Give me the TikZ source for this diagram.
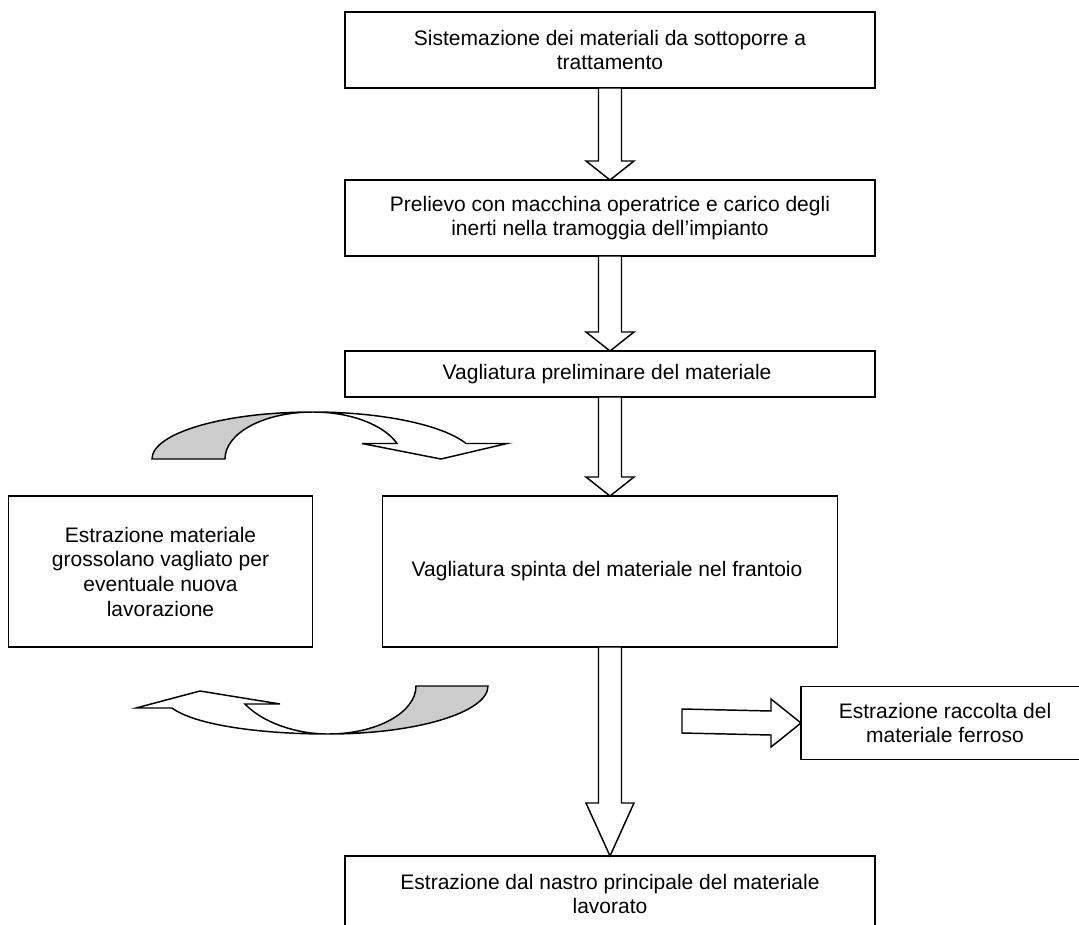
\documentclass[tikz,border=0pt]{standalone}
\usepackage{fontspec}
\setmainfont{Liberation Sans}
\usetikzlibrary{positioning,calc}
\definecolor{backgray}{gray}{0.8}

\begin{document}
\begin{tikzpicture}[x=0.75pt, y=-0.75pt, line width=1.1pt,
    box/.style={draw, rectangle, align=center, inner sep=0pt, outer sep=0pt,
        font=\fontsize{15.75}{18.5}\selectfont},
    blockarrow/.style={draw, fill=white, line width=1.1pt}]
    \clip (0,0) rectangle (1079,925);

    \node[box, minimum width=397.5pt, minimum height=57pt] (box1) at (610,50) {
        Sistemazione dei materiali da sottoporre a\\
        trattamento
    };
    \node[box, minimum width=397.5pt, minimum height=57pt, below=69pt of box1] (box2) {
        Prelievo con macchina operatrice e carico degli\\
        inerti nella tramoggia dell’impianto
    };
    \node[box, minimum width=397.5pt, minimum height=34.5pt, below=71.25pt of box2] (box3) {
        Vagliatura preliminare del materiale
    };
    \node[box, minimum width=341.25pt, minimum height=113.25pt, below=74.25pt of box3] (box4) {
        Vagliatura spinta del materiale nel frantoio
    };
    \node[box, minimum width=228pt, minimum height=113.25pt, left=52.5pt of box4] (coarse) {
        Estrazione materiale\\
        grossolano vagliato per\\
        eventuale nuova\\
        lavorazione
    };
    \node[box, minimum width=397.5pt, minimum height=57pt, below=156.75pt of box4] (box5) {
        Estrazione dal nastro principale del materiale\\
        lavorato
    };
    \node[box, minimum width=216pt, minimum height=54.75pt] (ferrous) at (945,723) {
        Estrazione raccolta del\\
        materiale ferroso
    };
    \coordinate (ferstart) at (682,721);

    \foreach \a/\b in {box1/box2, box2/box3, box3/box4}
        \draw[blockarrow] ($(\a.south)+(-11.5,0)$) -- ($(\b.north)+(-11.5,-19)$) -- ($(\b.north)+(-24,-19)$)
            -- (\b.north) -- ($(\b.north)+(24,-19)$) -- ($(\b.north)+(11.5,-19)$) -- ($(\a.south)+(11.5,0)$) -- cycle;

    \draw[blockarrow] ($(box4.south)+(-11.5,0)$) -- ($(box5.north)+(-11.5,-53)$) -- ($(box5.north)+(-24,-53)$)
        -- (box5.north) -- ($(box5.north)+(24,-53)$) -- ($(box5.north)+(11.5,-53)$) -- ($(box4.south)+(11.5,0)$) -- cycle;

    \draw[blockarrow] ($(ferstart)+(0,-12)$) -- ($(ferrous.west)+(-30,-12)$) -- ($(ferrous.west)+(-30,-24)$)
        -- (ferrous.west) -- ($(ferrous.west)+(-30,24)$) -- ($(ferrous.west)+(-30,12)$) -- ($(ferstart)+(0,12)$) -- cycle;

    \draw[fill=backgray] (152,459) .. controls (152,433) and (224,412) .. (313,412)
        .. controls (264,412) and (225,433) .. (225,459) -- cycle;
    \draw[fill=white] (313,412) .. controls (382,412) and (443,425) .. (466,443.5) -- (507,443.5) -- (441,459)
        -- (362,443.5) -- (397,443.5) .. controls (384,425) and (351,412) .. (313,412) -- cycle;

    \draw[fill=backgray] (488,686) .. controls (488,712.5) and (416,734) .. (328,734)
        .. controls (377,734) and (416,712.5) .. (416,686) -- cycle;
    \draw[fill=white] (328,734) .. controls (260,734) and (195,725) .. (172,708) -- (136,708) -- (200,691)
        -- (280,704) -- (245,704) .. controls (262,722) and (295,734) .. (328,734) -- cycle;
\end{tikzpicture}
\end{document}
